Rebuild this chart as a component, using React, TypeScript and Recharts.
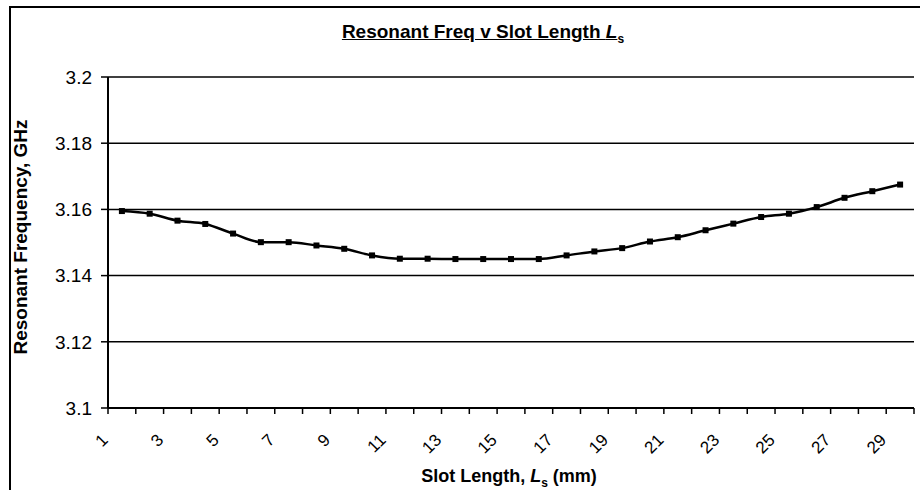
import React from 'react';
import { LineChart, Line, XAxis, YAxis, CartesianGrid } from 'recharts';

// slot length categories (mm)
const slotLengths = [
  '1', '2', '3', '4', '5', '6', '7', '8', '9', '10',
  '11', '12', '13', '14', '15', '16', '17', '18', '19', '20',
  '21', '22', '23', '24', '25', '26', '27', '28', '29',
];

// resonant frequency, GHz
const resonantFreq = [
  3.1595, 3.1587, 3.1566, 3.1556, 3.1527, 3.1501, 3.1501, 3.1491, 3.1481, 3.1461,
  3.1451, 3.1451, 3.145, 3.145, 3.145, 3.145, 3.1461, 3.1473, 3.1483, 3.1503,
  3.1516, 3.1537, 3.1557, 3.1577, 3.1587, 3.1607, 3.1635, 3.1655, 3.1675,
];

const yTicks = [3.1, 3.12, 3.14, 3.16, 3.18, 3.2];

const W = 920;
const H = 490;
const Y_AXIS_W = 108;
const RIGHT = 6;
const PLOT_W = W - Y_AXIS_W - RIGHT;
const BAND = PLOT_W / slotLengths.length;
const FONT = "Arial, 'Liberation Sans', sans-serif";

const data = slotLengths.map((s, i) => ({ slot: s, freq: resonantFreq[i] }));

const SlotTick = (props: any) => {
  const { x, y, index, payload } = props;
  const last = index === slotLengths.length - 1;
  const ax = x - 13;
  const ay = y + 33;
  return (
    <g>
      <line x1={x - BAND / 2} y1={y} x2={x - BAND / 2} y2={y + 6} stroke="#000" strokeWidth={1.5} />
      {last && <line x1={x + BAND / 2} y1={y} x2={x + BAND / 2} y2={y + 6} stroke="#000" strokeWidth={1.5} />}
      {index % 2 === 0 && (
        <text
          x={ax}
          y={ay}
          textAnchor="end"
          transform={`rotate(-45, ${ax}, ${ay})`}
          fontSize={17}
          fontFamily={FONT}
          fill="#000"
        >
          {payload.value}
        </text>
      )}
    </g>
  );
};

const SquareDot = (props: any) => {
  const { cx, cy, index } = props;
  if (cx == null || cy == null) return null;
  return <rect key={`dot-${index}`} x={cx - 3} y={cy - 3} width={6} height={6} fill="#000" />;
};

const App: React.FC = () => {
  return (
    <div style={{ position: 'absolute', left: 0, top: 0, width: W, height: H, background: '#fff', fontFamily: FONT }}>
      {/* chart area frame (left and top edges visible) */}
      <div
        style={{
          position: 'absolute',
          left: 9,
          top: 6,
          width: W - 9,
          height: H - 6,
          borderLeft: '2px solid #000',
          borderTop: '2px solid #000',
          boxSizing: 'border-box',
        }}
      />

      <div
        style={{
          position: 'absolute',
          left: 483,
          top: 22,
          transform: 'translateX(-50%)',
          whiteSpace: 'nowrap',
          fontSize: 19,
          lineHeight: '20px',
          fontWeight: 'bold',
          textDecoration: 'underline',
          color: '#000',
        }}
      >
        Resonant Freq v Slot Length <i>L</i>
        <sub style={{ fontSize: 12 }}>s</sub>
      </div>

      <LineChart
        width={W}
        height={H}
        data={data}
        margin={{ top: 77, right: RIGHT, bottom: 0, left: 0 }}
        style={{ position: 'absolute', left: 0, top: 0 }}
      >
        <CartesianGrid vertical={false} stroke="#000" strokeWidth={1.5} />
        <XAxis
          dataKey="slot"
          height={82}
          interval={0}
          padding={{ left: BAND / 2, right: BAND / 2 }}
          tickLine={false}
          tickSize={0}
          tickMargin={0}
          axisLine={{ stroke: '#000', strokeWidth: 2 }}
          tick={<SlotTick />}
        />
        <YAxis
          width={Y_AXIS_W}
          domain={[3.1, 3.2]}
          ticks={yTicks}
          tickFormatter={(v: number) => String(Number(v.toFixed(2)))}
          tickSize={7}
          tickMargin={9}
          tickLine={{ stroke: '#000', strokeWidth: 1.5 }}
          axisLine={{ stroke: '#000', strokeWidth: 2 }}
          tick={{ fontSize: 19, fill: '#000', fontFamily: FONT }}
          allowDataOverflow
        />
        <YAxis
          yAxisId="right"
          orientation="right"
          width={0}
          domain={[3.1, 3.2]}
          tick={false}
          tickLine={false}
          axisLine={{ stroke: '#000', strokeWidth: 2 }}
        />
        <Line
          type="monotone"
          dataKey="freq"
          stroke="#000"
          strokeWidth={2.5}
          dot={<SquareDot />}
          activeDot={false}
          isAnimationActive={false}
        />
      </LineChart>

      <div
        style={{
          position: 'absolute',
          left: 21,
          top: 237,
          transform: 'translate(-50%, -50%) rotate(-90deg)',
          whiteSpace: 'nowrap',
          fontSize: 19,
          lineHeight: '20px',
          fontWeight: 'bold',
          color: '#000',
        }}
      >
        Resonant Frequency, GHz
      </div>

      <div
        style={{
          position: 'absolute',
          left: 509,
          top: 466,
          transform: 'translateX(-50%)',
          whiteSpace: 'nowrap',
          fontSize: 18,
          lineHeight: '20px',
          fontWeight: 'bold',
          color: '#000',
        }}
      >
        Slot Length, <i>L</i>
        <sub style={{ fontSize: 12 }}>s</sub> (mm)
      </div>
    </div>
  );
};

export default App;
